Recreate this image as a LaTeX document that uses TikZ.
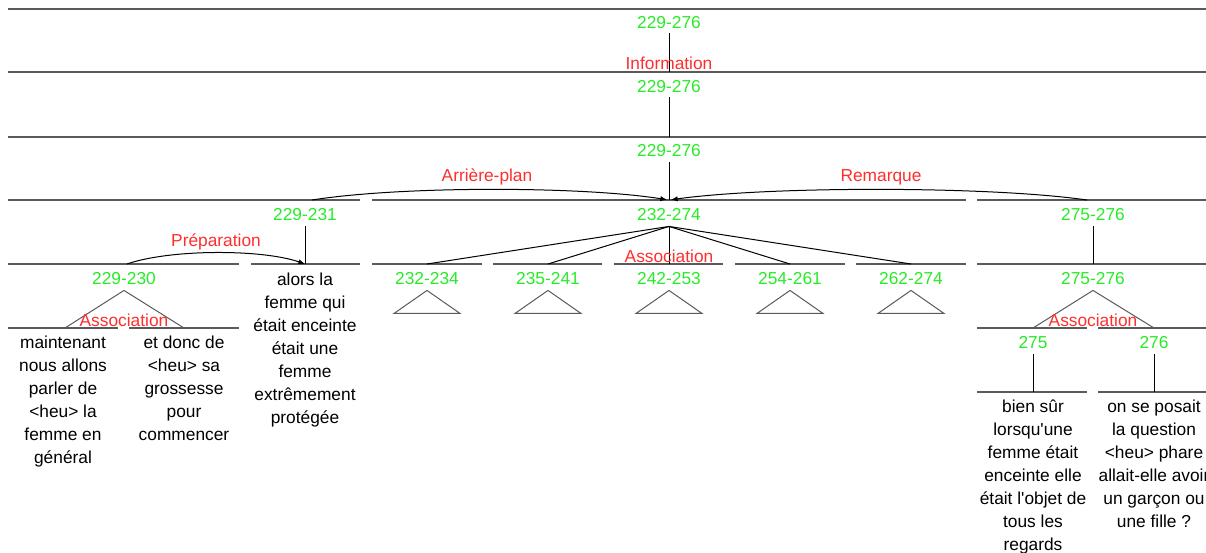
\documentclass[tikz,border=0pt]{standalone}
\usepackage{fontspec}
\setmainfont{Liberation Sans}
\usetikzlibrary{arrows.meta,calc}
\definecolor{spangreen}{RGB}{40,235,40}
\definecolor{relred}{RGB}{255,45,45}
\definecolor{rulegray}{RGB}{90,90,90}
\tikzset{
  span/.style={text=spangreen, inner sep=0pt, anchor=base, font=\fontsize{13}{16}\selectfont},
  rel/.style={text=relred, inner sep=0pt, anchor=base, font=\fontsize{13}{16}\selectfont},
  leaf/.style={align=center, inner sep=0pt, anchor=north, font=\fontsize{13}{17.25}\selectfont},
  hline/.style={draw=rulegray, line width=0.9pt},
  link/.style={draw=black, line width=0.75pt},
  tri/.style={draw=rulegray, line width=0.75pt},
  relarc/.style={draw=black, line width=0.75pt, -{Latex[length=5pt,width=4pt]}}
}
\begin{document}
\begin{tikzpicture}[x=0.75pt,y=-0.75pt]
\useasboundingbox (0,0) rectangle (1206,553);
% horizontal rules
\draw[hline] (8,9) -- (1206,9);
\draw[hline] (8,72) -- (1206,72);
\draw[hline] (8,137) -- (1206,137);
\draw[hline] (8,200) -- (360,200);
\draw[hline] (372,200) -- (966,200);
\draw[hline] (977,200) -- (1206,200);
\foreach \a/\b in {8/239,251/360,372/482,493/602,614/723,735/845,856/966,977/1206}
  \draw[hline] (\a,264) -- (\b,264);
\draw[hline] (8,328) -- (118,328);
\draw[hline] (129,328) -- (239,328);
\draw[hline] (977,328) -- (1087,328);
\draw[hline] (1098,328) -- (1206,328);
\draw[hline] (977,392) -- (1087,392);
\draw[hline] (1098,392) -- (1206,392);

% span labels
\node[span] (s1) at (669,28) {229-276};
\node[span] (s2) at (669,92) {229-276};
\node[span] (s3) at (669,156) {229-276};
\node[span] (s229231) at (305,220) {229-231};
\node[span] (s232274) at (669,220) {232-274};
\node[span] (s275276a) at (1093,220) {275-276};
\node[span] (s229230) at (124,284) {229-230};
\node[span] (s232234) at (427,284) {232-234};
\node[span] (s235241) at (548,284) {235-241};
\node[span] (s242253) at (669,284) {242-253};
\node[span] (s254261) at (790,284) {254-261};
\node[span] (s262274) at (911,284) {262-274};
\node[span] (s275276b) at (1093,284) {275-276};
\node[span] (s275) at (1033,348) {275};
\node[span] (s276) at (1154,348) {276};

% junction coordinates
\coordinate (j1) at (669,72);
\coordinate (j2) at (669,137);
\coordinate (j3) at (669,200);
\coordinate (j4) at (305,264);
\coordinate (j5) at (1093,264);
\coordinate (j6) at (1033,392);
\coordinate (j7) at (1154,392);
\coordinate (f1) at (427,264);
\coordinate (f2) at (548,264);
\coordinate (f3) at (669,264);
\coordinate (f4) at (790,264);
\coordinate (f5) at (911,264);
\coordinate (aL) at (312,200);
\coordinate (aR) at (1087,200);
\coordinate (pL) at (127,264);
\coordinate (bL1) at (65,328);
\coordinate (bL2) at (184,328);
\coordinate (bR1) at (1033,328);
\coordinate (bR2) at (1154,328);

% vertical links
\draw[link] ($(s1.south)+(0,5)$) -- (j1);
\draw[link] ($(s2.south)+(0,5)$) -- (j2);
\draw[link] ($(s3.south)+(0,6)$) -- (j3);
\draw[link] ($(s229231.south)+(0,6)$) -- (j4);
\draw[link] ($(s275276a.south)+(0,6)$) -- (j5);
\draw[link] ($(s275.south)+(0,6)$) -- (j6);
\draw[link] ($(s276.south)+(0,6)$) -- (j7);

% fan of 232-274
\foreach \f in {f1,f2,f3,f4,f5}
  \draw[link] ($(s232274.south)+(0,6)$) -- (\f);

% multinuclear triangles
\draw[tri] (bL1) -- ($(s229230.south)+(0,6)$) -- (bL2);
\draw[tri] (bR1) -- ($(s275276b.south)+(0,6)$) -- (bR2);

% collapsed subtree triangles
\foreach \n in {s232234,s235241,s242253,s254261,s262274}
  \draw[tri] ($(\n.south)+(0,6)$) -- ($(\n.south)+(33,29)$) -- ($(\n.south)+(-33,29)$) -- cycle;

% relation arcs
\draw[relarc, shorten >=1.5pt] (aL) .. controls (400,186) and (580,186) .. (j3);
\draw[relarc, shorten >=1.5pt] (aR) .. controls (990,186) and (770,186) .. (j3);
\draw[relarc] (pL) .. controls (170,249) and (262,249) .. (j4);

% relation labels
\node[rel] (rInfo) at (669,69) {Information};
\node[rel] (rArr) at (487,181) {Arrière-plan};
\node[rel] (rRem) at (881,181) {Remarque};
\node[rel] (rPrep) at (216,246) {Préparation};
\node[rel] (rAssocM) at (669,262) {Association};
\node[rel] (rAssocL) at (124,326) {Association};
\node[rel] (rAssocR) at (1093,326) {Association};

% leaf texts
\node[leaf] (t229) at (63,336) {maintenant\\nous allons\\parler de\\<heu> la\\femme en\\général};
\node[leaf] (t230) at (184,336) {et donc de\\<heu> sa\\grossesse\\pour\\commencer};
\node[leaf] (t231) at (305,273) {alors la\\femme qui\\était enceinte\\était une\\femme\\extrêmement\\protégée};
\node[leaf] (t275) at (1033,400) {bien sûr\\lorsqu\textquotesingle une\\femme était\\enceinte elle\\était l\textquotesingle objet de\\tous les\\regards};
\node[leaf] (t276) at (1154,400) {on se posait\\la question\\<heu> phare\\allait-elle avoir\\un garçon ou\\une fille ?};
\end{tikzpicture}
\end{document}
